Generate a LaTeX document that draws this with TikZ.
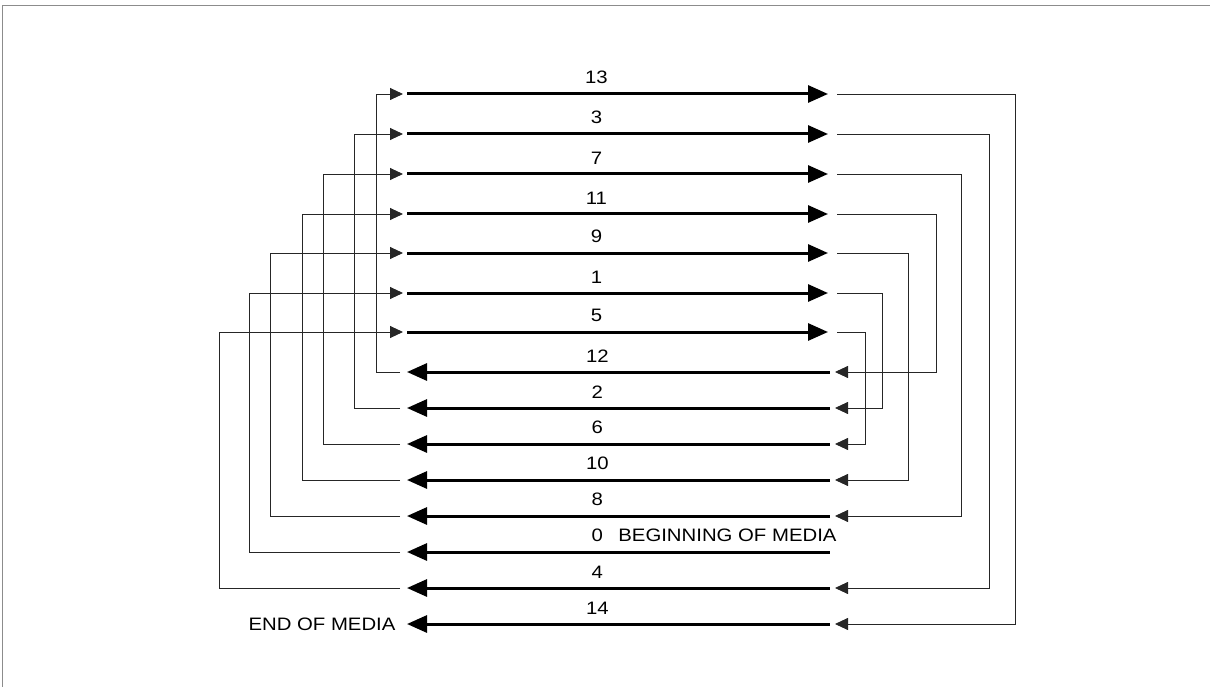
\documentclass[tikz,border=0pt]{standalone}
\usepackage{fontspec}
\setmainfont{Liberation Sans}[FakeStretch=1.13]
\usetikzlibrary{arrows.meta,positioning}

\tikzset{
  big/.tip={Triangle[length=20pt,width=17pt]},
  small/.tip={Triangle[length=13pt,width=12pt]},
  track/.style={line width=3pt},
  fwd/.style={track,-big},
  rev/.style={track,big-},
  link/.style={line width=0.9pt,black!85,-small},
  tracklabel/.style={above=5pt,pos=0.45},
  frame/.style={line width=0.8pt,black!45}
}

\begin{document}
\begin{tikzpicture}[x=1pt,y=-1pt,font=\fontsize{18}{21}\selectfont]
\useasboundingbox (0,0) rectangle (1210,687);
\draw[frame] (2,687) -- (2,5) -- (1210,5);

% track ends, forward tracks
\coordinate (l13) at (407,94);  \coordinate (r13) at (828,94);
\coordinate (l3) at (407,134);  \coordinate (r3) at (828,134);
\coordinate (l7) at (407,174);  \coordinate (r7) at (828,174);
\coordinate (l11) at (407,214); \coordinate (r11) at (828,214);
\coordinate (l9) at (407,253);  \coordinate (r9) at (828,253);
\coordinate (l1) at (407,293);  \coordinate (r1) at (828,293);
\coordinate (l5) at (407,332);  \coordinate (r5) at (828,332);

% track ends, reverse tracks
\coordinate (l12) at (407,372); \coordinate (r12) at (830,372);
\coordinate (l2) at (407,408);  \coordinate (r2) at (830,408);
\coordinate (l6) at (407,444);  \coordinate (r6) at (830,444);
\coordinate (l10) at (407,480); \coordinate (r10) at (830,480);
\coordinate (l8) at (407,516);  \coordinate (r8) at (830,516);
\coordinate (l0) at (407,552);  \coordinate (r0) at (830,552);
\coordinate (l4) at (407,588);  \coordinate (r4) at (830,588);
\coordinate (l14) at (407,624); \coordinate (r14) at (830,624);

\draw[fwd] (l13)--node[tracklabel]{13}(r13);
\draw[fwd] (l3)--node[tracklabel]{3}(r3);
\draw[fwd] (l7)--node[tracklabel]{7}(r7);
\draw[fwd] (l11)--node[tracklabel]{11}(r11);
\draw[fwd] (l9)--node[tracklabel]{9}(r9);
\draw[fwd] (l1)--node[tracklabel]{1}(r1);
\draw[fwd] (l5)--node[tracklabel]{5}(r5);

\draw[rev] (l12)--node[tracklabel]{12}(r12);
\draw[rev] (l2)--node[tracklabel]{2}(r2);
\draw[rev] (l6)--node[tracklabel]{6}(r6);
\draw[rev] (l10)--node[tracklabel]{10}(r10);
\draw[rev] (l8)--node[tracklabel]{8}(r8);
\draw[rev] (l0)--node[tracklabel] (n0) {0}(r0);
\draw[rev] (l4)--node[tracklabel]{4}(r4);
\draw[rev] (l14)--node[tracklabel]{14}(r14);

\node[right=7pt of n0] (bom) {BEGINNING OF MEDIA};
\node[left=8pt of l14] (eom) {END OF MEDIA};

% turns at the left end
\draw[link] ([xshift=-7pt]l12) -- ++(-24,0) |- ([xshift=-4pt]l13);
\draw[link] ([xshift=-7pt]l2) -- ++(-46,0) |- ([xshift=-4pt]l3);
\draw[link] ([xshift=-7pt]l6) -- ++(-77,0) |- ([xshift=-4pt]l7);
\draw[link] ([xshift=-7pt]l10) -- ++(-98,0) |- ([xshift=-4pt]l11);
\draw[link] ([xshift=-7pt]l8) -- ++(-130,0) |- ([xshift=-4pt]l9);
\draw[link] ([xshift=-7pt]l0) -- ++(-151,0) |- ([xshift=-4pt]l1);
\draw[link] ([xshift=-7pt]l4) -- ++(-181,0) |- ([xshift=-4pt]l5);

% turns at the right end
\draw[link] ([xshift=9pt]r13) -- ++(178,0) |- ([xshift=5pt]r14);
\draw[link] ([xshift=9pt]r3) -- ++(152,0) |- ([xshift=5pt]r4);
\draw[link] ([xshift=9pt]r7) -- ++(124,0) |- ([xshift=5pt]r8);
\draw[link] ([xshift=9pt]r11) -- ++(99,0) |- ([xshift=5pt]r12);
\draw[link] ([xshift=9pt]r9) -- ++(71,0) |- ([xshift=5pt]r10);
\draw[link] ([xshift=9pt]r1) -- ++(45,0) |- ([xshift=5pt]r2);
\draw[link] ([xshift=9pt]r5) -- ++(28,0) |- ([xshift=5pt]r6);
\end{tikzpicture}
\end{document}
